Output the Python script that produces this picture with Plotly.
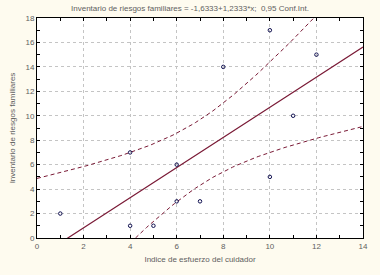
import numpy as np
import plotly.graph_objects as go

# Data
esfuerzo = [1, 4, 4, 5, 6, 6, 7, 8, 10, 10, 11, 12]
riesgos = [2, 1, 7, 1, 3, 6, 3, 14, 17, 5, 10, 15]
x_ticks = [0, 2, 4, 6, 8, 10, 12, 14]
y_ticks = [0, 2, 4, 6, 8, 10, 12, 14, 16, 18]

# Linear fit and 95% confidence band for the mean (as in the original)
x = np.array(esfuerzo, float)
y = np.array(riesgos, float)
n = len(x)
b, a = np.polyfit(x, y, 1)
resid = y - (a + b * x)
s = np.sqrt(np.sum(resid ** 2) / (n - 2))
t975 = 2.2281388519649385  # t(0.975, df=10)
xs = np.linspace(0, 14, 141)
yhat = a + b * xs
se = s * np.sqrt(1 / n + (xs - x.mean()) ** 2 / np.sum((x - x.mean()) ** 2))
upper = yhat + t975 * se
lower = yhat - t975 * se

line_col = "#7a1a36"
fig = go.Figure()
fig.add_trace(go.Scatter(x=xs, y=upper, mode="lines",
                         line=dict(color=line_col, width=1, dash="4px,3px"), hoverinfo="skip"))
fig.add_trace(go.Scatter(x=xs, y=lower, mode="lines",
                         line=dict(color=line_col, width=1, dash="4px,3px"), hoverinfo="skip"))
fig.add_trace(go.Scatter(x=xs, y=yhat, mode="lines",
                         line=dict(color=line_col, width=1.2), hoverinfo="skip"))
fig.add_trace(go.Scatter(x=esfuerzo, y=riesgos, mode="markers",
                         marker=dict(symbol="circle-open", size=3.5, color="#101050",
                                     line=dict(width=1, color="#101050"))))

font = dict(family="Arial, Liberation Sans, sans-serif", size=8, color="#606060")
axis_common = dict(
    showline=True, linecolor="black", linewidth=1, mirror="ticks",
    ticks="inside", ticklen=3, tickcolor="black",
    showgrid=True, gridcolor="#c4c4c4", griddash="dot", gridwidth=1,
    zeroline=False, tickfont=font, ticklabeloverflow="allow",
    minor=dict(ticks="inside", dtick=1, ticklen=3, tickcolor="black", showgrid=False),
)
fig.update_layout(
    width=380, height=275,
    paper_bgcolor="#fefbef", plot_bgcolor="white",
    margin=dict(l=36, r=15, t=18, b=37),
    showlegend=False,
    title=dict(text="Inventario de riesgos familiares = -1,6333+1,2333*x;  0,95 Conf.Int.",
               x=0.5, xanchor="center", y=0.97, yanchor="middle", font=font),
    xaxis=dict(range=[0, 14], tickvals=x_ticks, title=dict(text="Indice de esfuerzo del cuidador",
               font=font, standoff=6), **axis_common),
    yaxis=dict(range=[0, 18], tickvals=y_ticks, title=dict(text="Inventario de riesgos familiares",
               font=font, standoff=8), **axis_common),
)
fig.write_html("out.html", config={"displayModeBar": False},
               post_script="document.body.style.margin='0';document.body.style.background='#fefbef';")
